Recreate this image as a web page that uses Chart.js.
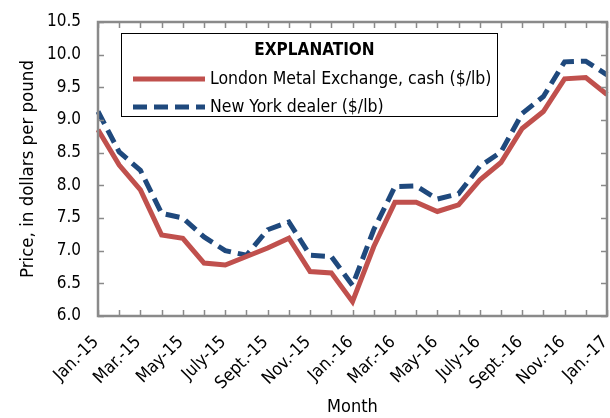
<!DOCTYPE html>
<html>
<head>
<meta charset="utf-8">
<script src="https://cdn.jsdelivr.net/npm/chart.js@4.4.1/dist/chart.umd.min.js"></script>
<style>
  html, body { margin: 0; padding: 0; background: #fff; }
  #wrap { width: 610px; height: 418px; }
</style>
</head>
<body>
<div id="wrap"><canvas id="c"></canvas></div>
<script>
// monthly prices, Jan 2015 - Jan 2017
var months = [
  "Jan.-15", "Feb.-15", "Mar.-15", "Apr.-15", "May-15", "June-15", "July-15", "Aug.-15",
  "Sept.-15", "Oct.-15", "Nov.-15", "Dec.-15",
  "Jan.-16", "Feb.-16", "Mar.-16", "Apr.-16", "May-16", "June-16", "July-16", "Aug.-16",
  "Sept.-16", "Oct.-16", "Nov.-16", "Dec.-16",
  "Jan.-17"
];
var lmeCash = [
  8.85, 8.31, 7.93, 7.24, 7.19, 6.81, 6.78, 6.91, 7.04, 7.19, 6.68, 6.66,
  6.22, 7.06, 7.74, 7.74, 7.60, 7.70, 8.08, 8.35, 8.87, 9.13, 9.63, 9.65,
  9.39
];
var nyDealer = [
  9.13, 8.51, 8.23, 7.57, 7.50, 7.21, 7.00, 6.93, 7.32, 7.44, 6.93, 6.91,
  6.47, 7.32, 7.98, 7.99, 7.79, 7.87, 8.29, 8.51, 9.10, 9.36, 9.89, 9.90,
  9.69
];
var yMin = 6.0, yMax = 10.5, yStep = 0.5;

var FONT = "'Liberation Sans Narrow', 'Arial Narrow', 'DejaVu Sans Condensed', sans-serif";

// inward tick marks on all four sides + grey frame
var frameTicks = {
  id: 'frameTicks',
  afterDatasetsDraw: function(chart) {
    var ctx = chart.ctx, a = chart.chartArea;
    var xs = chart.scales.x, ys = chart.scales.y;
    ctx.save();
    ctx.strokeStyle = '#8a8a8a';
    ctx.lineWidth = 1.5;
    var len = 6;
    for (var i = 0; i < months.length; i++) {
      var px = Math.round(xs.getPixelForValue(i)) + 0.5;
      ctx.beginPath();
      ctx.moveTo(px, a.bottom); ctx.lineTo(px, a.bottom - len);
      ctx.moveTo(px, a.top); ctx.lineTo(px, a.top + len);
      ctx.stroke();
    }
    for (var v = yMin; v <= yMax + 1e-9; v += yStep) {
      var py = Math.round(ys.getPixelForValue(v)) + 0.5;
      ctx.beginPath();
      ctx.moveTo(a.left, py); ctx.lineTo(a.left + len, py);
      ctx.moveTo(a.right, py); ctx.lineTo(a.right - len, py);
      ctx.stroke();
    }
    ctx.lineWidth = 2.5;
    ctx.strokeRect(a.left, a.top, a.right - a.left, a.bottom - a.top);
    ctx.restore();
  }
};

// boxed "EXPLANATION" legend inside plot
var explanation = {
  id: 'explanation',
  afterDraw: function(chart) {
    var ctx = chart.ctx;
    var bx = 121.5, by = 33.5, bw = 376, bh = 83;
    ctx.save();
    ctx.fillStyle = '#fff';
    ctx.fillRect(bx, by, bw, bh);
    ctx.strokeStyle = '#000';
    ctx.lineWidth = 1;
    ctx.strokeRect(bx, by, bw, bh);
    ctx.fillStyle = '#000';
    ctx.textAlign = 'center';
    ctx.textBaseline = 'middle';
    ctx.font = 'bold 17px ' + FONT;
    ctx.fillText('EXPLANATION', bx + bw / 2 + 5, 51);
    ctx.textAlign = 'left';
    ctx.font = '17.5px ' + FONT;
    var rows = [79, 107];
    chart.data.datasets.forEach(function(ds, i) {
      ctx.beginPath();
      ctx.strokeStyle = ds.borderColor;
      ctx.lineWidth = ds.borderWidth;
      ctx.lineCap = 'butt';
      ctx.setLineDash(ds.borderDash || []);
      ctx.moveTo(133, rows[i]);
      ctx.lineTo(205, rows[i]);
      ctx.stroke();
      ctx.setLineDash([]);
      ctx.fillText(ds.label, 210, rows[i]);
    });
    ctx.restore();
  }
};

new Chart(document.getElementById('c'), {
  type: 'line',
  data: {
    labels: months,
    datasets: [
      {
        label: 'London Metal Exchange, cash ($/lb)',
        data: lmeCash,
        borderColor: '#c0504d',
        borderWidth: 5,
        pointRadius: 0,
        tension: 0
      },
      {
        label: 'New York dealer ($/lb)',
        data: nyDealer,
        borderColor: '#1f497d',
        borderWidth: 5,
        borderDash: [14, 7],
        pointRadius: 0,
        tension: 0
      }
    ]
  },
  options: {
    responsive: true,
    maintainAspectRatio: false,
    animation: false,
    layout: { padding: { top: 22, right: 3, left: 17, bottom: 0 } },
    plugins: { legend: { display: false }, tooltip: { enabled: false } },
    scales: {
      x: {
        offset: false,
        grid: { display: false, drawTicks: false },
        border: { display: false },
        ticks: {
          autoSkip: false,
          maxRotation: 45,
          minRotation: 45,
          padding: 16,
          labelOffset: -2,
          color: '#000',
          font: { family: FONT, size: 17.5 },
          callback: function(v, i) { return i % 2 === 0 ? months[i] : ''; }
        },
        title: {
          display: true,
          text: 'Month',
          color: '#000',
          font: { family: FONT, size: 18 },
          padding: { top: 0, bottom: 0 }
        },
        afterFit: function(s) {
          s.height = 102;
          s.paddingLeft = 0;
          s.paddingRight = 0;
        }
      },
      y: {
        min: yMin,
        max: yMax,
        grid: { display: false, drawTicks: false },
        border: { display: false },
        ticks: {
          stepSize: yStep,
          padding: 17,
          color: '#000',
          font: { family: FONT, size: 17 },
          callback: function(v) { return v.toFixed(1); }
        },
        title: {
          display: true,
          text: 'Price, in dollars per pound',
          color: '#000',
          font: { family: FONT, size: 18.5 },
          padding: { top: 0, bottom: 0 }
        },
        afterFit: function(s) {
          s.width = 81;
          s.paddingTop = 0;
          s.paddingBottom = 0;
        }
      }
    }
  },
  plugins: [frameTicks, explanation]
});
</script>
</body>
</html>
